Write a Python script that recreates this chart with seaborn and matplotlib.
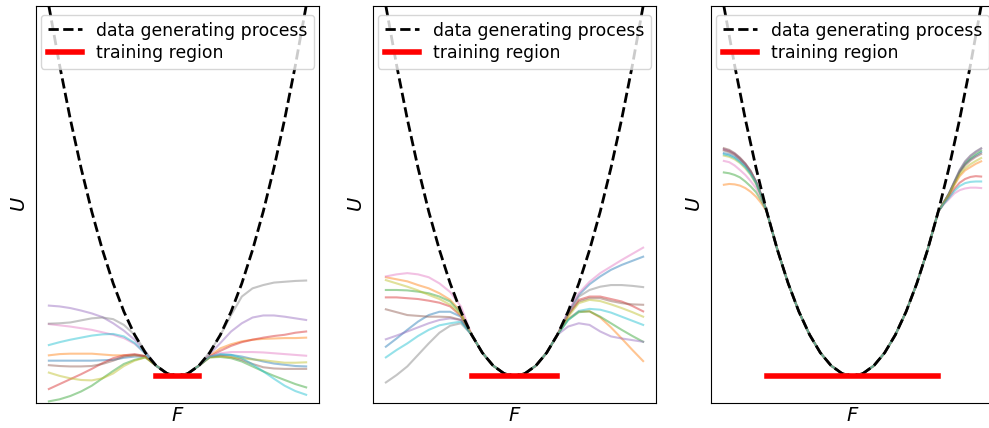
import numpy as np
import pandas as pd
import matplotlib
matplotlib.use("Agg")
import matplotlib.pyplot as plt
import seaborn as sns

# ---------------- data ----------------
# data generating process U = F^2 (values read on a 0.25 grid)
F_dgp = [-3, -2.75, -2.5, -2.25, -2, -1.75, -1.5, -1.25, -1, -0.75, -0.5, -0.25, 0,
         0.25, 0.5, 0.75, 1, 1.25, 1.5, 1.75, 2, 2.25, 2.5, 2.75, 3]
U_dgp = [9, 7.5625, 6.25, 5.0625, 4, 3.0625, 2.25, 1.5625, 1, 0.5625, 0.25, 0.0625, 0,
         0.0625, 0.25, 0.5625, 1, 1.5625, 2.25, 3.0625, 4, 5.0625, 6.25, 7.5625, 9]

training_half_widths = [0.5, 1.0, 2.0]
series_names = ["blue", "orange", "green", "red", "purple",
                "brown", "pink", "gray", "olive", "cyan"]

# ---- panel 1 (training region [-0.5, 0.5]) ----
p1_F_left = [-3, -2.75, -2.5, -2.25, -2, -1.75, -1.5, -1.25, -1, -0.75]
p1_F_right = [0.75, 1, 1.25, 1.5, 1.75, 2, 2.25, 2.5, 2.75, 3]
p1_left = {
    "blue":   [0.37, 0.37, 0.37, 0.37, 0.37, 0.38, 0.39, 0.44, 0.47, 0.47],
    "orange": [0.50, 0.53, 0.54, 0.54, 0.54, 0.52, 0.50, 0.50, 0.50, 0.48],
    "green":  [-0.62, -0.57, -0.49, -0.38, -0.24, -0.06, 0.12, 0.29, 0.39, 0.45],
    "red":    [-0.32, -0.20, -0.08, 0.04, 0.17, 0.31, 0.43, 0.50, 0.53, 0.48],
    "purple": [1.71, 1.69, 1.65, 1.59, 1.52, 1.43, 1.28, 1.10, 0.88, 0.59],
    "brown":  [0.26, 0.24, 0.23, 0.23, 0.24, 0.29, 0.37, 0.47, 0.51, 0.48],
    "pink":   [1.26, 1.23, 1.20, 1.16, 1.12, 1.06, 1.00, 0.92, 0.78, 0.55],
    "gray":   [1.27, 1.28, 1.30, 1.35, 1.40, 1.42, 1.38, 1.24, 1.00, 0.59],
    "olive":  [0.08, 0.00, -0.06, -0.10, -0.11, -0.06, 0.06, 0.24, 0.37, 0.45],
    "cyan":   [0.75, 0.82, 0.88, 0.93, 0.98, 1.01, 1.02, 0.96, 0.80, 0.54],
}
p1_right = {
    "blue":   [0.46, 0.51, 0.51, 0.47, 0.41, 0.35, 0.30, 0.27, 0.24, 0.23],
    "orange": [0.49, 0.67, 0.77, 0.84, 0.88, 0.90, 0.91, 0.92, 0.92, 0.93],
    "green":  [0.45, 0.46, 0.43, 0.35, 0.23, 0.11, 0.00, -0.10, -0.20, -0.28],
    "red":    [0.47, 0.61, 0.73, 0.82, 0.88, 0.93, 0.97, 1.00, 1.05, 1.08],
    "purple": [0.53, 0.80, 1.08, 1.28, 1.42, 1.47, 1.47, 1.44, 1.40, 1.36],
    "brown":  [0.46, 0.49, 0.46, 0.39, 0.29, 0.21, 0.18, 0.17, 0.17, 0.17],
    "pink":   [0.47, 0.55, 0.58, 0.58, 0.58, 0.57, 0.55, 0.53, 0.51, 0.49],
    "gray":   [0.58, 0.99, 1.48, 1.93, 2.13, 2.21, 2.27, 2.29, 2.31, 2.32],
    "olive":  [0.45, 0.47, 0.45, 0.43, 0.40, 0.38, 0.35, 0.32, 0.32, 0.33],
    "cyan":   [0.47, 0.53, 0.51, 0.43, 0.28, 0.11, -0.07, -0.24, -0.37, -0.46],
}

# ---- panel 2 (training region [-1, 1]) ----
p2_F_left = [-3, -2.75, -2.5, -2.25, -2, -1.75, -1.5, -1.25]
p2_F_right = [1.25, 1.5, 1.75, 2, 2.25, 2.5, 2.75, 3]
p2_left = {
    "blue":   [0.71, 0.91, 1.12, 1.32, 1.48, 1.56, 1.56, 1.44],
    "orange": [2.40, 2.35, 2.30, 2.21, 2.13, 2.01, 1.85, 1.56],
    "green":  [2.09, 2.09, 2.08, 2.05, 2.01, 1.93, 1.81, 1.52],
    "red":    [1.91, 1.91, 1.89, 1.87, 1.83, 1.78, 1.69, 1.46],
    "purple": [0.89, 0.98, 1.08, 1.18, 1.28, 1.36, 1.40, 1.36],
    "brown":  [1.62, 1.55, 1.48, 1.46, 1.44, 1.44, 1.43, 1.36],
    "pink":   [2.42, 2.47, 2.50, 2.47, 2.40, 2.25, 2.04, 1.69],
    "gray":   [-0.16, 0.02, 0.23, 0.51, 0.79, 1.05, 1.22, 1.28],
    "olive":  [2.33, 2.25, 2.17, 2.08, 1.97, 1.87, 1.73, 1.48],
    "cyan":   [0.45, 0.63, 0.79, 0.97, 1.12, 1.23, 1.28, 1.32],
}
p2_right = {
    "blue":   [1.55, 1.97, 2.23, 2.42, 2.58, 2.70, 2.80, 2.90],
    "orange": [1.39, 1.57, 1.57, 1.42, 1.18, 0.91, 0.63, 0.36],
    "green":  [1.36, 1.55, 1.57, 1.44, 1.28, 1.12, 0.97, 0.83],
    "red":    [1.48, 1.85, 1.93, 1.93, 1.87, 1.81, 1.70, 1.57],
    "purple": [1.20, 1.28, 1.24, 1.08, 0.96, 0.91, 0.87, 0.83],
    "brown":  [1.48, 1.81, 1.89, 1.89, 1.82, 1.77, 1.74, 1.73],
    "pink":   [1.57, 2.01, 2.29, 2.50, 2.66, 2.82, 2.97, 3.12],
    "gray":   [1.53, 1.93, 2.09, 2.17, 2.21, 2.21, 2.19, 2.16],
    "olive":  [1.44, 1.77, 1.85, 1.82, 1.74, 1.65, 1.55, 1.44],
    "cyan":   [1.36, 1.58, 1.63, 1.61, 1.54, 1.44, 1.34, 1.24],
}

# ---- panel 3 (training region [-2, 2]) ----
p3_F_left = [-3, -2.875, -2.75, -2.625, -2.5, -2.375, -2.25, -2.125]
p3_F_right = [2.125, 2.25, 2.375, 2.5, 2.625, 2.75, 2.875, 3]
p3_left = {
    "blue":   [5.42, 5.39, 5.33, 5.23, 5.10, 4.93, 4.70, 4.38],
    "orange": [4.65, 4.67, 4.66, 4.63, 4.57, 4.48, 4.36, 4.20],
    "green":  [4.95, 4.93, 4.89, 4.83, 4.73, 4.61, 4.47, 4.26],
    "red":    [5.50, 5.46, 5.39, 5.28, 5.15, 4.97, 4.72, 4.40],
    "purple": [5.52, 5.48, 5.41, 5.30, 5.16, 4.98, 4.73, 4.40],
    "brown":  [5.54, 5.50, 5.42, 5.31, 5.17, 4.99, 4.73, 4.40],
    "pink":   [5.23, 5.20, 5.12, 5.01, 4.89, 4.74, 4.57, 4.32],
    "gray":   [5.48, 5.44, 5.38, 5.27, 5.14, 4.96, 4.72, 4.39],
    "olive":  [5.36, 5.33, 5.27, 5.18, 5.05, 4.89, 4.67, 4.36],
    "cyan":   [5.39, 5.36, 5.30, 5.20, 5.08, 4.91, 4.69, 4.37],
}
p3_right = {
    "blue":   [4.21, 4.43, 4.70, 4.97, 5.15, 5.27, 5.36, 5.44],
    "orange": [4.20, 4.40, 4.64, 4.86, 5.00, 5.08, 5.16, 5.22],
    "green":  [4.21, 4.43, 4.71, 4.98, 5.17, 5.30, 5.40, 5.48],
    "red":    [4.19, 4.36, 4.55, 4.70, 4.79, 4.84, 4.86, 4.85],
    "purple": [4.21, 4.44, 4.72, 5.00, 5.21, 5.35, 5.45, 5.53],
    "brown":  [4.21, 4.42, 4.69, 4.95, 5.12, 5.24, 5.33, 5.40],
    "pink":   [4.17, 4.30, 4.44, 4.52, 4.56, 4.58, 4.58, 4.57],
    "gray":   [4.21, 4.44, 4.73, 5.01, 5.22, 5.36, 5.46, 5.54],
    "olive":  [4.20, 4.41, 4.66, 4.90, 5.05, 5.15, 5.23, 5.30],
    "cyan":   [4.18, 4.33, 4.50, 4.62, 4.69, 4.72, 4.73, 4.73],
}

panels = [
    (p1_F_left, p1_left, p1_F_right, p1_right),
    (p2_F_left, p2_left, p2_F_right, p2_right),
    (p3_F_left, p3_left, p3_F_right, p3_right),
]

# ---------------- plot ----------------
plt.rcParams["font.family"] = ["DejaVu Sans"]
palette = sns.color_palette("tab10", 10)

fig = plt.figure(figsize=(9.89, 4.28), dpi=100)
W, H = 989.0, 428.0
ax_left_px = [36, 373, 711]
ax_w_px = 283
ax_top_px, ax_bot_px = 6, 403

for k, (FL, left, FR, right) in enumerate(panels):
    ax = fig.add_axes([ax_left_px[k] / W, (H - ax_bot_px) / H,
                       ax_w_px / W, (ax_bot_px - ax_top_px) / H])
    hw = training_half_widths[k]
    inner_F = [f for f in F_dgp if -hw <= f <= hw]
    inner_U = [u for f, u in zip(F_dgp, U_dgp) if -hw <= f <= hw]
    for i, name in enumerate(series_names):
        xs = list(FL) + inner_F + list(FR)
        ys = list(left[name]) + inner_U + list(right[name])
        df = pd.DataFrame({"F": xs, "U": ys})
        sns.lineplot(data=df, x="F", y="U", ax=ax, color=palette[i],
                     alpha=0.45, lw=1.5, sort=False, estimator=None)
    sns.lineplot(x=F_dgp, y=U_dgp, ax=ax, color="black", lw=2,
                 linestyle="--", label="data generating process",
                 sort=False, estimator=None)
    sns.lineplot(x=[-hw, hw], y=[0, 0], ax=ax, color="red", lw=4,
                 label="training region", sort=False, estimator=None)
    ax.set_xlim(-3.3, 3.3)
    ax.set_ylim(-0.66, 9.0)
    ax.set_xticks([])
    ax.set_yticks([])
    ax.set_xlabel("$F$", fontsize=14, labelpad=2)
    ax.set_ylabel("$U$", fontsize=14, labelpad=5)
    ax.legend(loc="upper center", fontsize=12.4, labelspacing=0.25,
              borderaxespad=0.5)

fig.savefig("out.png", dpi=100)
